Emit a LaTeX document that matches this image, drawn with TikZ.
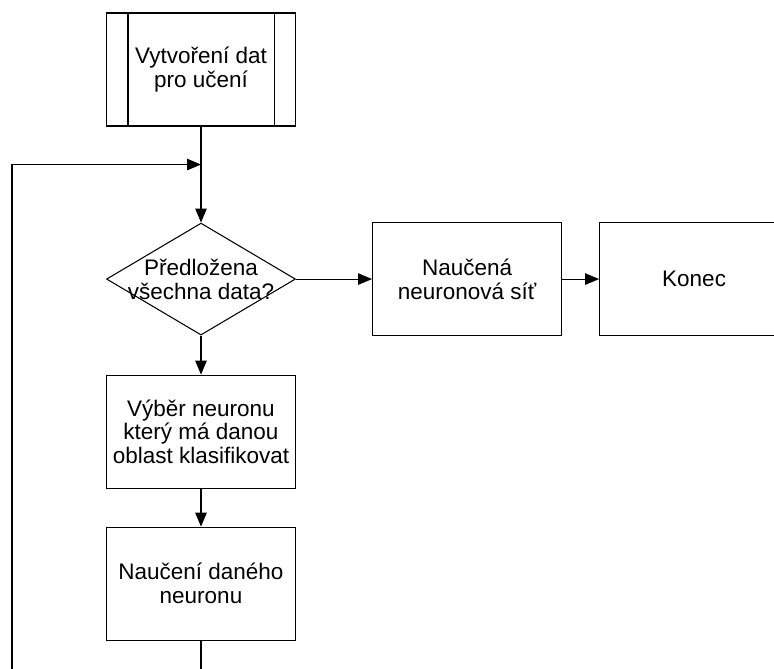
\documentclass[tikz,border=0pt]{standalone}
\usepackage{fontspec}
\setmainfont{Liberation Sans}
\usepackage{tikz}
\usetikzlibrary{shapes.geometric, positioning, arrows.meta}

\begin{document}
\begin{tikzpicture}[
		font=\fontsize{12.8}{13.5}\selectfont,
		line width=0.6pt,
		box/.style={rectangle, draw, align=center, minimum width=3.78cm, minimum height=2.26cm},
		decision/.style={diamond, draw, inner sep=0pt, minimum width=3.78cm, minimum height=2.24cm},
		arr/.style={-{Triangle[length=2.8mm, width=2.3mm]}}
	]
			\useasboundingbox (0,0) rectangle (15.48,-13.36);
			\clip (0,0) rectangle (15.48,-13.36);

			% Nodes
			\node (src) [box] at (4.02,-1.39) {Vytvoření dat\\pro učení};
			\draw ([xshift=0.44cm]src.north west) -- ([xshift=0.44cm]src.south west);
			\draw ([xshift=-0.44cm]src.north east) -- ([xshift=-0.44cm]src.south east);
			\node (dec) [decision, below=1.92cm of src] {};
			\node (q) [align=center] at (dec) {Předložena\\všechna data?};
			\node (net) [box, right=1.52cm of dec] {Naučená\\neuronová síť};
			\node (end) [box, right=0.74cm of net] {Konec};
			\node (sel) [box, below=0.78cm of dec] {Výběr neuronu\\který má danou\\oblast klasifikovat};
			\node (fit) [box, below=0.76cm of sel] {Naučení daného\\neuronu};
			\coordinate (join) at ([yshift=-0.76cm]src.south);
			\coordinate (back) at (0.24,-14);

			% Edges
			\draw[arr] (src) -- (dec);
			\draw[arr] (dec) -- (net);
			\draw[arr] (net) -- (end);
			\draw[arr] (dec) -- (sel);
			\draw[arr] (sel) -- (fit);
			\draw[arr] (fit.south) |- (back) |- (join);

		\end{tikzpicture}
\end{document}
